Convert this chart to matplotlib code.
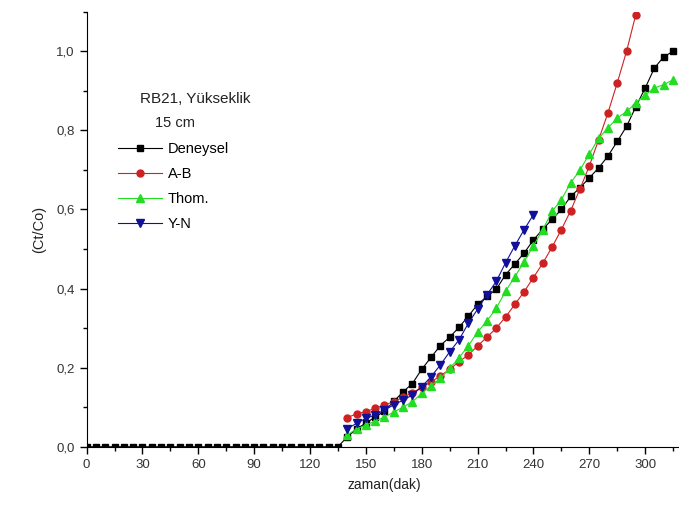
import numpy as np
import matplotlib.pyplot as plt
from matplotlib.ticker import FuncFormatter, MultipleLocator

plt.rcParams['font.family'] = ['Liberation Sans', 'DejaVu Sans']

# zaman (dak)
t_sifir = np.arange(0, 136, 5)
t_den = np.arange(140, 316, 5)
t_ab = np.arange(140, 296, 5)
t_thom = np.arange(140, 316, 5)
t_yn = np.arange(140, 241, 5)

# Ct/Co
c_sifir = np.zeros(len(t_sifir))
c_den = [0.025, 0.045, 0.06, 0.075, 0.09, 0.115, 0.139, 0.16, 0.196, 0.226,
         0.256, 0.277, 0.302, 0.33, 0.36, 0.38, 0.398, 0.435, 0.462, 0.49,
         0.523, 0.55, 0.575, 0.60, 0.633, 0.655, 0.68, 0.705, 0.735, 0.772,
         0.81, 0.86, 0.907, 0.958, 0.986, 1.0]
c_ab = [0.074, 0.083, 0.089, 0.097, 0.106, 0.114, 0.125, 0.137, 0.15, 0.164,
        0.179, 0.196, 0.215, 0.232, 0.255, 0.277, 0.30, 0.328, 0.36, 0.392,
        0.428, 0.464, 0.505, 0.549, 0.597, 0.652, 0.71, 0.776, 0.844, 0.92,
        1.0, 1.093]
c_thom = [0.03, 0.045, 0.055, 0.065, 0.075, 0.088, 0.10, 0.114, 0.135, 0.154,
          0.173, 0.198, 0.225, 0.255, 0.29, 0.318, 0.35, 0.393, 0.43, 0.468,
          0.508, 0.549, 0.595, 0.625, 0.667, 0.70, 0.74, 0.78, 0.806, 0.831,
          0.848, 0.869, 0.89, 0.907, 0.916, 0.928]
c_yn = [0.046, 0.059, 0.072, 0.08, 0.093, 0.106, 0.118, 0.131, 0.152, 0.177,
        0.207, 0.24, 0.27, 0.312, 0.348, 0.384, 0.418, 0.465, 0.508, 0.549,
        0.587]

fig = plt.figure(figsize=(6.79, 5.25), dpi=100)
ax = fig.add_axes([0.1275, 0.149, 0.8775, 0.8286])

t_d = np.concatenate([t_sifir, t_den])
c_d = np.concatenate([c_sifir, c_den])

ax.plot(t_d, c_d, color='black', lw=0.8, marker='s', ms=5, label='Deneysel')
ax.plot(t_ab, c_ab, color='#cc2222', lw=0.8, marker='o', ms=5, label='A-B')
ax.plot(t_thom, c_thom, color='#22dd22', lw=0.8, marker='^', ms=5.5, label='Thom.')
ax.plot(t_yn, c_yn, color='#10109a', lw=0.8, marker='v', ms=5.5, label='Y-N')

ax.set_xlim(0, 320)
ax.set_ylim(0, 1.1)
ax.xaxis.set_major_locator(MultipleLocator(30))
ax.xaxis.set_minor_locator(MultipleLocator(15))
ax.yaxis.set_major_locator(MultipleLocator(0.2))
ax.yaxis.set_minor_locator(MultipleLocator(0.1))
ax.yaxis.set_major_formatter(FuncFormatter(lambda v, p: f"{v:.1f}".replace('.', ',')))

for s in ['top', 'right']:
    ax.spines[s].set_visible(False)
ax.tick_params(which='major', direction='out', length=5, width=1,
               labelsize=9.5, labelcolor='#333333')
ax.tick_params(which='minor', direction='out', length=3, width=1)

ax.set_xlabel('zaman(dak)', fontsize=10, color='#222222', labelpad=5)
ax.set_ylabel('(Ct/Co)', fontsize=10.5, color='#222222', labelpad=7)

ax.text(28.5, 0.88, 'RB21, Yükseklik', fontsize=11, va='center', color='#222222')
ax.text(36.5, 0.819, '15 cm', fontsize=10.5, va='center', color='#222222')

ax.legend(loc='upper left', bbox_to_anchor=(0.053, 0.70), frameon=False,
          fontsize=10.5, handlelength=3.0, handletextpad=0.4, labelspacing=0.75,
          borderpad=0, borderaxespad=0)

plt.savefig('out.png', dpi=100)
